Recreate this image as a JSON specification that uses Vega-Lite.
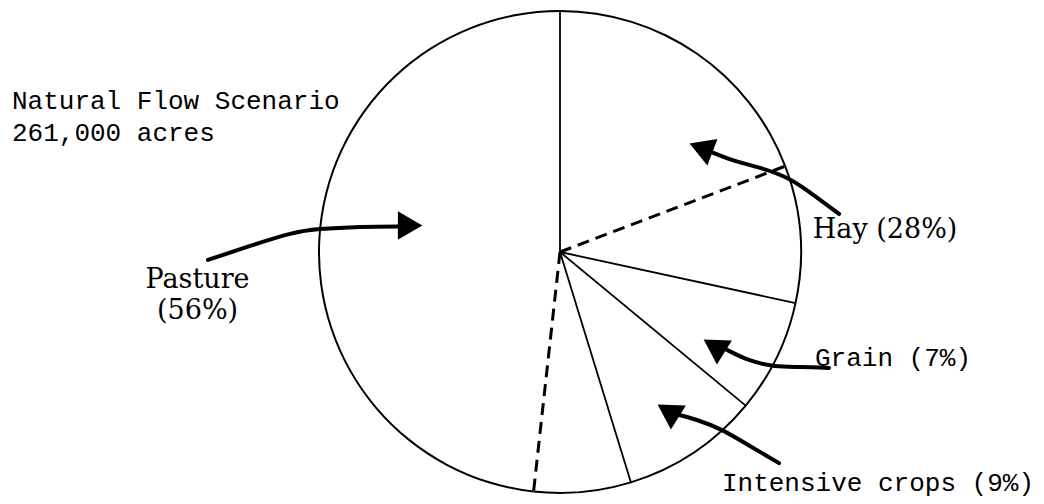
{
  "$schema": "https://vega.github.io/schema/vega-lite/v6.json",
  "width": 968,
  "height": 504,
  "autosize": {"type": "none"},
  "padding": {"left": 76, "top": 0, "right": 0, "bottom": 0},
  "background": "white",
  "config": {"view": {"stroke": null}},
  "datasets": {
    "slices": [
      {"crop": "Hay", "part": "a", "share": 19.2, "boundary": "between crops"},
      {"crop": "Hay", "part": "b", "share": 9.2, "boundary": "within crop"},
      {"crop": "Grain", "part": "a", "share": 7.6, "boundary": "between crops"},
      {"crop": "Intensive crops", "part": "a", "share": 9.25, "boundary": "between crops"},
      {"crop": "Pasture", "part": "b", "share": 6.5, "boundary": "between crops"},
      {"crop": "Pasture", "part": "a", "share": 48.25, "boundary": "within crop"}
    ],
    "subdivisions": [
      {"crop": "Hay", "step": 1, "x": 0, "y": 0},
      {"crop": "Hay", "step": 2, "x": 0.9344, "y": 0.3563},
      {"crop": "Pasture", "step": 1, "x": 0, "y": 0},
      {"crop": "Pasture", "step": 2, "x": -0.1097, "y": -0.994}
    ],
    "arrows": [
      {"arrow": "Pasture", "step": 1, "x": -1.461, "y": -0.033},
      {"arrow": "Pasture", "step": 2, "x": -1.286, "y": 0.025},
      {"arrow": "Pasture", "step": 3, "x": -1.120, "y": 0.075},
      {"arrow": "Pasture", "step": 4, "x": -0.996, "y": 0.095},
      {"arrow": "Pasture", "step": 5, "x": -0.830, "y": 0.104},
      {"arrow": "Pasture", "step": 6, "x": -0.672, "y": 0.106},
      {"arrow": "Hay", "step": 1, "x": 1.158, "y": 0.158},
      {"arrow": "Hay", "step": 2, "x": 1.058, "y": 0.232},
      {"arrow": "Hay", "step": 3, "x": 0.950, "y": 0.303},
      {"arrow": "Hay", "step": 4, "x": 0.830, "y": 0.349},
      {"arrow": "Hay", "step": 5, "x": 0.726, "y": 0.378},
      {"arrow": "Hay", "step": 6, "x": 0.618, "y": 0.419},
      {"arrow": "Grain", "step": 1, "x": 1.116, "y": -0.481},
      {"arrow": "Grain", "step": 2, "x": 0.996, "y": -0.477},
      {"arrow": "Grain", "step": 3, "x": 0.892, "y": -0.473},
      {"arrow": "Grain", "step": 4, "x": 0.784, "y": -0.448},
      {"arrow": "Grain", "step": 5, "x": 0.685, "y": -0.402},
      {"arrow": "Intensive crops", "step": 1, "x": 0.909, "y": -0.876},
      {"arrow": "Intensive crops", "step": 2, "x": 0.788, "y": -0.805},
      {"arrow": "Intensive crops", "step": 3, "x": 0.672, "y": -0.739},
      {"arrow": "Intensive crops", "step": 4, "x": 0.568, "y": -0.697},
      {"arrow": "Intensive crops", "step": 5, "x": 0.481, "y": -0.672}
    ],
    "heads": [
      {"arrow": "Pasture", "x": -0.622, "y": 0.110, "heading": 0},
      {"arrow": "Hay", "x": 0.585, "y": 0.432, "heading": 201},
      {"arrow": "Grain", "x": 0.639, "y": -0.390, "heading": 212},
      {"arrow": "Intensive crops", "x": 0.448, "y": -0.660, "heading": 212}
    ],
    "monoLabels": [
      {"text": "Natural Flow Scenario", "x": -2.274, "y": 0.593},
      {"text": "261,000 acres", "x": -2.274, "y": 0.461},
      {"text": "Grain (7%)", "x": 1.058, "y": -0.473},
      {"text": "Intensive crops (9%)", "x": 0.672, "y": -0.992}
    ],
    "serifLabels": [
      {"text": "Hay  (28%)", "x": 1.349, "y": 0.058},
      {"text": "Pasture", "x": -1.504, "y": -0.149},
      {"text": "(56%)", "x": -1.504, "y": -0.278}
    ]
  },
  "layer": [
    {
      "data": {"name": "slices"},
      "transform": [{"stack": "share", "groupby": [], "as": ["s0", "s1"]}],
      "mark": {"type": "arc", "radius": 241, "fill": "white", "stroke": null},
      "encoding": {
        "x": {"datum": 0, "type": "quantitative", "scale": {"domain": [-2.0083, 2.0083]}, "axis": null},
        "y": {"datum": 0, "type": "quantitative", "scale": {"domain": [-1.04564, 1.04564]}, "axis": null},
        "theta": {"field": "s0", "type": "quantitative", "stack": null, "scale": {"domain": [0, 100]}},
        "theta2": {"field": "s1"}
      }
    },
    {
      "data": {"name": "slices"},
      "transform": [{"stack": "share", "groupby": [], "as": ["s0", "s1"]}],
      "mark": {"type": "arc", "radius": 242, "radius2": 240, "fill": "black", "stroke": null},
      "encoding": {
        "x": {"datum": 0, "type": "quantitative", "scale": {"domain": [-2.0083, 2.0083]}, "axis": null},
        "y": {"datum": 0, "type": "quantitative", "scale": {"domain": [-1.04564, 1.04564]}, "axis": null},
        "theta": {"field": "s0", "type": "quantitative", "stack": null, "scale": {"domain": [0, 100]}},
        "theta2": {"field": "s1"}
      }
    },
    {
      "data": {"name": "slices"},
      "transform": [
        {"stack": "share", "groupby": [], "as": ["s0", "s1"]},
        {"filter": "datum.boundary === 'between crops'"}
      ],
      "mark": {"type": "arc", "radius": 241, "filled": false, "stroke": "black", "strokeWidth": 1.8},
      "encoding": {
        "x": {"datum": 0, "type": "quantitative", "scale": {"domain": [-2.0083, 2.0083]}, "axis": null},
        "y": {"datum": 0, "type": "quantitative", "scale": {"domain": [-1.04564, 1.04564]}, "axis": null},
        "theta": {"field": "s0", "type": "quantitative", "stack": null, "scale": {"domain": [0, 100]}},
        "theta2": {"field": "s0"}
      }
    },
    {
      "data": {"name": "subdivisions"},
      "mark": {"type": "line", "color": "black", "strokeWidth": 3, "strokeDash": [12, 7]},
      "encoding": {
        "x": {"field": "x", "type": "quantitative", "scale": {"domain": [-2.0083, 2.0083]}, "axis": null},
        "y": {"field": "y", "type": "quantitative", "scale": {"domain": [-1.04564, 1.04564]}, "axis": null},
        "detail": {"field": "crop"},
        "order": {"field": "step"}
      }
    },
    {
      "data": {"name": "arrows"},
      "mark": {"type": "line", "color": "black", "strokeWidth": 4, "interpolate": "natural", "strokeCap": "round"},
      "encoding": {
        "x": {"field": "x", "type": "quantitative", "scale": {"domain": [-2.0083, 2.0083]}, "axis": null},
        "y": {"field": "y", "type": "quantitative", "scale": {"domain": [-1.04564, 1.04564]}, "axis": null},
        "detail": {"field": "arrow"},
        "order": {"field": "step"}
      }
    },
    {
      "data": {"name": "heads"},
      "mark": {"type": "point", "shape": "triangle-right", "filled": true, "color": "black", "size": 800, "opacity": 1},
      "encoding": {
        "x": {"field": "x", "type": "quantitative", "scale": {"domain": [-2.0083, 2.0083]}, "axis": null},
        "y": {"field": "y", "type": "quantitative", "scale": {"domain": [-1.04564, 1.04564]}, "axis": null},
        "angle": {"field": "heading", "type": "quantitative", "scale": null}
      }
    },
    {
      "data": {"name": "monoLabels"},
      "mark": {"type": "text", "font": "Liberation Mono", "fontSize": 26, "align": "left", "baseline": "alphabetic", "color": "black"},
      "encoding": {
        "x": {"field": "x", "type": "quantitative", "scale": {"domain": [-2.0083, 2.0083]}, "axis": null},
        "y": {"field": "y", "type": "quantitative", "scale": {"domain": [-1.04564, 1.04564]}, "axis": null},
        "text": {"field": "text"}
      }
    },
    {
      "data": {"name": "serifLabels"},
      "mark": {"type": "text", "font": "DejaVu Serif", "fontSize": 27, "align": "center", "baseline": "alphabetic", "color": "black"},
      "encoding": {
        "x": {"field": "x", "type": "quantitative", "scale": {"domain": [-2.0083, 2.0083]}, "axis": null},
        "y": {"field": "y", "type": "quantitative", "scale": {"domain": [-1.04564, 1.04564]}, "axis": null},
        "text": {"field": "text"}
      }
    }
  ]
}
